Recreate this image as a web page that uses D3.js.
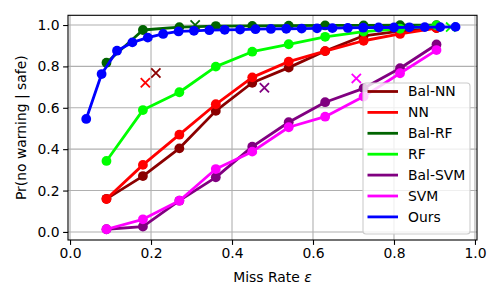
<!DOCTYPE html>
<html>
<head>
<meta charset="utf-8">
<script src="https://cdn.jsdelivr.net/npm/d3@7"></script>
<style>
  body { margin: 0; background: #fff; }
  text { font-family: "DejaVu Sans", sans-serif; }
</style>
</head>
<body>
<svg id="chart" width="500" height="300"></svg>
<script>

const methods = ["Bal-NN", "NN", "Bal-RF", "RF", "Bal-SVM", "SVM", "Ours"];
const colors = ["#8b0000", "#ff0000", "#006400", "#00ff00", "#800080", "#ff00ff", "#0000ff"];

const gridX = [0.09, 0.18, 0.27, 0.36, 0.45, 0.54, 0.63, 0.725, 0.815, 0.905];

const balNN = [0.16, 0.27, 0.404, 0.585, 0.721, 0.794, 0.874, 0.948, 0.97, 0.985];
const nn = [0.159, 0.324, 0.47, 0.617, 0.747, 0.823, 0.874, 0.924, 0.957, 0.985];
const balRF = [0.818, 0.976, 0.99, 0.995, 0.996, 0.997, 0.998, 0.998, 0.999, 0.999];
const rf = [0.343, 0.589, 0.675, 0.799, 0.871, 0.907, 0.943, 0.968, 0.982, 0.998];
const balSVM = [0.013, 0.026, 0.151, 0.264, 0.412, 0.53, 0.627, 0.694, 0.791, 0.906];
const svm = [0.013, 0.061, 0.151, 0.304, 0.388, 0.506, 0.557, 0.654, 0.767, 0.879];

const oursX = [0.04, 0.078, 0.116, 0.154, 0.192, 0.23, 0.268, 0.306, 0.344, 0.382,
  0.42, 0.458, 0.496, 0.534, 0.572, 0.61, 0.648, 0.686, 0.724, 0.762,
  0.8, 0.838, 0.876, 0.914, 0.952];
const oursY = [0.546, 0.763, 0.876, 0.916, 0.939, 0.957, 0.969, 0.972, 0.975, 0.977,
  0.978, 0.98, 0.981, 0.982, 0.983, 0.984, 0.985, 0.986, 0.987, 0.988,
  0.988, 0.989, 0.99, 0.99, 0.991];

// single operating points drawn as crosses
const crossX = [0.212, 0.186, 0.309, 0.94, 0.48, 0.707, null];
const crossY = [0.768, 0.721, 1.0, 0.99, 0.697, 0.742, null];

const xTicks = [0, 0.2, 0.4, 0.6, 0.8, 1.0];
const yTicks = [0, 0.2, 0.4, 0.6, 0.8, 1.0];

const series = [
  { x: gridX, y: balNN },
  { x: gridX, y: nn },
  { x: gridX, y: balRF },
  { x: gridX, y: rf },
  { x: gridX, y: balSVM },
  { x: gridX, y: svm },
  { x: oursX, y: oursY }
];

const svg = d3.select("#chart");

const mLeft = 68, mRight = 477, mTop = 15.3, mBottom = 240;

const x =
  d3.scaleLinear()
    .domain([-0.005, 1.005])
    .range([mLeft, mRight]);

const y =
  d3.scaleLinear()
    .domain([-0.039, 1.047])
    .range([mBottom, mTop]);

// grid
svg.append("g")
  .selectAll("line")
  .data(xTicks)
  .enter()
  .append("line")
  .attr("x1", d => x(d))
  .attr("x2", d => x(d))
  .attr("y1", mTop)
  .attr("y2", mBottom)
  .attr("stroke", "#b0b0b0")
  .attr("stroke-width", 1.1);

svg.append("g")
  .selectAll("line")
  .data(yTicks)
  .enter()
  .append("line")
  .attr("y1", d => y(d))
  .attr("y2", d => y(d))
  .attr("x1", mLeft)
  .attr("x2", mRight)
  .attr("stroke", "#b0b0b0")
  .attr("stroke-width", 1.1);

// axes
const xAxis =
  svg.append("g")
    .attr("transform", `translate(0,${mBottom})`)
    .call(
      d3.axisBottom(x)
        .tickValues(xTicks)
        .tickFormat(d3.format(".1f"))
        .tickSize(4.9)
        .tickPadding(3.5)
    );

const yAxis =
  svg.append("g")
    .attr("transform", `translate(${mLeft},0)`)
    .call(
      d3.axisLeft(y)
        .tickValues(yTicks)
        .tickFormat(d3.format(".1f"))
        .tickSize(4.9)
        .tickPadding(3.5)
    );

[xAxis, yAxis].forEach(a => {
  a.select(".domain").remove();
  a.selectAll("line").attr("stroke", "#000").attr("stroke-width", 1.1);
  a.selectAll("text")
    .attr("font-size", 13.9)
    .attr("font-family", "DejaVu Sans")
    .attr("fill", "#000");
});

// lines and markers
const line =
  d3.line()
    .x(d => x(d[0]))
    .y(d => y(d[1]));

series.forEach((s, i) => {

  const pts = s.x.map((v, j) => [v, s.y[j]]);

  svg.append("path")
    .datum(pts)
    .attr("d", line)
    .attr("fill", "none")
    .attr("stroke", colors[i])
    .attr("stroke-width", 2.8)
    .attr("stroke-linejoin", "round");

  svg.append("g")
    .selectAll("circle")
    .data(pts)
    .enter()
    .append("circle")
    .attr("cx", d => x(d[0]))
    .attr("cy", d => y(d[1]))
    .attr("r", 4.9)
    .attr("fill", colors[i]);

  if (crossX[i] !== null) {

    const cx = x(crossX[i]), cy = y(crossY[i]), h = 4.6;

    svg.append("path")
      .attr("d", `M${cx - h},${cy - h}L${cx + h},${cy + h}M${cx - h},${cy + h}L${cx + h},${cy - h}`)
      .attr("stroke", colors[i])
      .attr("stroke-width", 1.8)
      .attr("fill", "none");
  }

});

// frame
svg.append("rect")
  .attr("x", mLeft)
  .attr("y", mTop)
  .attr("width", mRight - mLeft)
  .attr("height", mBottom - mTop)
  .attr("fill", "none")
  .attr("stroke", "#000")
  .attr("stroke-width", 1.1);

// labels
const xLabel =
  svg.append("text")
    .attr("x", (mLeft + mRight) / 2)
    .attr("y", 282)
    .attr("text-anchor", "middle")
    .attr("font-size", 13.9);

xLabel.append("tspan").text("Miss Rate ");
xLabel.append("tspan").attr("font-style", "italic").text("ε");

svg.append("text")
  .attr("transform", `translate(26,${(mTop + mBottom) / 2}) rotate(-90)`)
  .attr("text-anchor", "middle")
  .attr("font-size", 13.9)
  .text("Pr(no warning | safe)");

// legend
const legend =
  svg.append("g")
    .attr("transform", "translate(363,83)");

legend.append("rect")
  .attr("width", 107)
  .attr("height", 151)
  .attr("rx", 3)
  .attr("fill", "#fff")
  .attr("fill-opacity", 0.8)
  .attr("stroke", "#cccccc")
  .attr("stroke-width", 1.1);

methods.forEach((m, i) => {

  const ly = 8.5 + i * 20.9;

  legend.append("line")
    .attr("x1", 4.5)
    .attr("x2", 35)
    .attr("y1", ly)
    .attr("y2", ly)
    .attr("stroke", colors[i])
    .attr("stroke-width", 2.8);

  legend.append("text")
    .attr("x", 45)
    .attr("y", ly)
    .attr("dy", "0.35em")
    .attr("font-size", 13.9)
    .text(m);

});

</script>
</body>
</html>
